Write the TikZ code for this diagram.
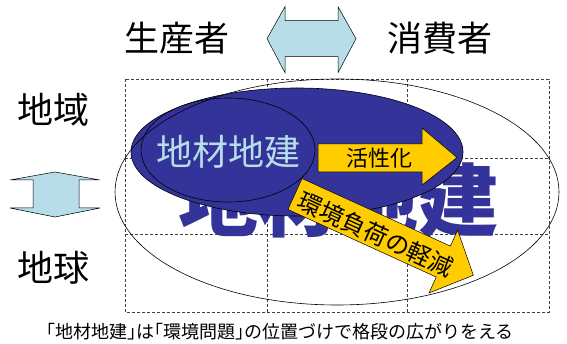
\documentclass[tikz,border=0pt]{standalone}
\usepackage{fontspec}
\newfontfamily\jp{Noto Sans CJK JP}
\newfontfamily\jpcap[RawFeature=+halt]{Noto Sans CJK JP}
\definecolor{navy}{HTML}{333399}
\definecolor{pale}{HTML}{B7DEE8}
\definecolor{gold}{HTML}{FFCC00}
\tikzset{
  gridline/.style={densely dashed, line width=0.5pt, black!75},
  paleshape/.style={fill=pale, draw=black, line width=0.5pt},
  goldshape/.style={fill=gold, draw=black, line width=0.5pt},
  navyshape/.style={fill=navy, draw=black, line width=0.6pt},
  lbl/.style={inner sep=0pt, text=black},
}
\begin{document}
\begin{tikzpicture}[x=1pt,y=-1pt]
\useasboundingbox (0,0) rectangle (567,344);
% dashed grid
\draw[gridline] (125,79) rectangle (549,312);
\draw[gridline] (267,79) -- (267,312) (407,79) -- (407,312);
\draw[gridline] (125,158) -- (549,158) (125,234) -- (549,234);
% big background text
\node[lbl, text=navy, font=\jp\bfseries\fontsize{80}{80}\selectfont] (bigtext) at (338,200) {地材地建};
% blue ellipses
\draw[navyshape] (297,152) ellipse [x radius=166, y radius=64];
\draw[navyshape] (228,150) ellipse [x radius=87, y radius=52];
\node[lbl, text=pale, font=\jp\fontsize{36}{36}\selectfont] (chizai) at (228,152) {地材地建};
% yellow arrow: 活性化
\draw[goldshape] (318,144) -- (422,144) -- (422,128) -- (457,157.5) -- (422,185) -- (422,172) -- (318,172) -- cycle;
\node[lbl, font=\jp\fontsize{22}{22}\selectfont] (kassei) at (379,158) {活性化};
% yellow diagonal arrow
\begin{scope}[shift={(295,194)}, rotate=-24.5]
\draw[goldshape] (0,-17) -- (163,-17) -- (163,-34.5) -- (196,0) -- (163,34.5) -- (163,17) -- (0,17) -- cycle;
\end{scope}
\node[lbl, rotate=-24.5, font=\jp\fontsize{24}{24}\selectfont] (kankyo) at (376,234) {環境負荷の軽減};
% outer ellipse
\draw[black, line width=0.6pt] (337,192) ellipse [x radius=222, y radius=113];
% top labels and arrow
\node[lbl, font=\jp\fontsize{35}{35}\selectfont] (seisan) at (177,38) {生産者};
\node[lbl, font=\jp\fontsize{35}{35}\selectfont] (shohi) at (440,38) {消費者};
\draw[paleshape] (267,38.7) -- (285,6.7) -- (285,20.7) -- (338,20.7) -- (338,6.7) -- (356,38.7) -- (338,72.7) -- (338,56.7) -- (285,56.7) -- (285,72.7) -- cycle;
% left labels and arrow
\node[lbl, font=\jp\fontsize{36}{36}\selectfont] (chiiki) at (53,110) {地域};
\node[lbl, font=\jp\fontsize{36}{36}\selectfont] (chikyu) at (53,268) {地球};
\draw[paleshape] (55,172) -- (100,180) -- (79,180) -- (79,208) -- (100,208) -- (55,217) -- (10,208) -- (33,208) -- (33,180) -- (10,180) -- cycle;
% caption
\node[lbl, font=\jpcap\fontsize{18}{18}\selectfont] (caption) at (280,332) {「地材地建」は「環境問題」の位置づけで格段の広がりをえる};
\end{tikzpicture}
\end{document}
